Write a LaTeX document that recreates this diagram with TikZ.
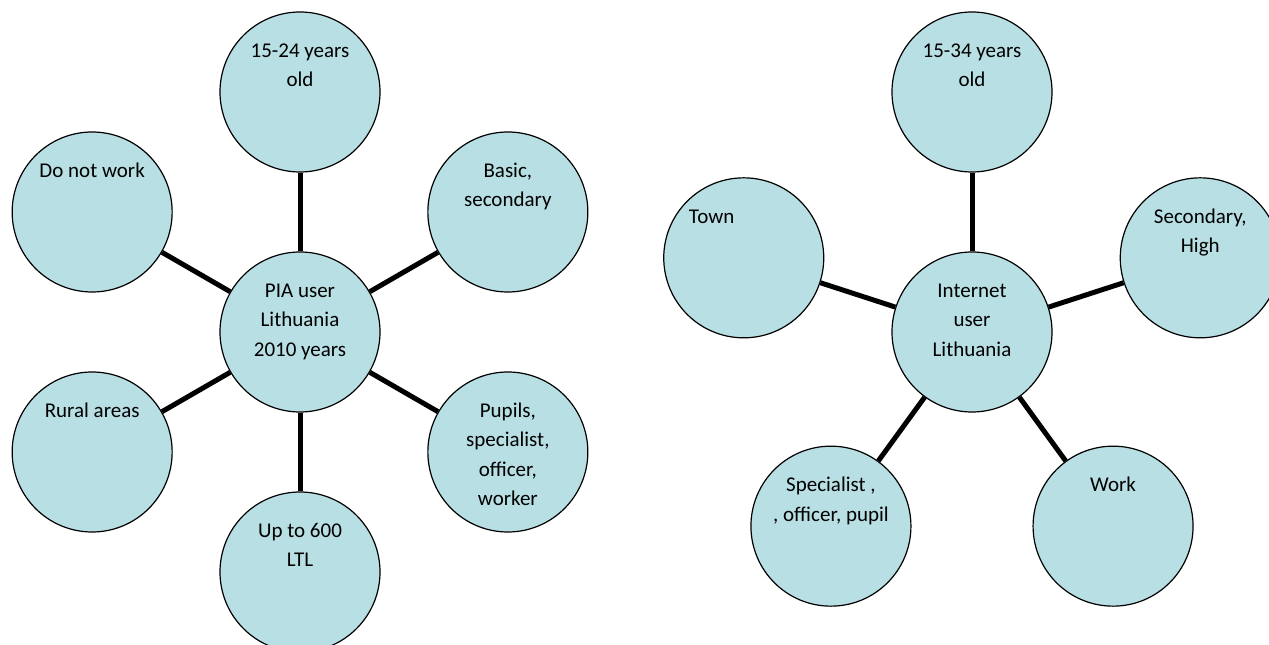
\documentclass[tikz,border=0pt]{standalone}
\usepackage{fontspec}
\setmainfont{Carlito}
\definecolor{bubblefill}{RGB}{184,223,227}
% lines stacked so that the baseline is the first line
\newcommand{\bubbletext}[1]{\begin{tabular}[t]{@{}c@{}}#1\end{tabular}}

\begin{document}
\begin{tikzpicture}[
    x=1pt, y=1pt,
    bubble/.style={draw, circle, line width=1.2pt, fill=bubblefill, minimum size=160pt, inner sep=0pt},
    txt/.style={anchor=base, inner sep=0pt, font=\fontsize{21}{29.5}\selectfont},
    link/.style={line width=5pt}
]
\clip (0,0) rectangle (1269,645);

% PIA users: hub with six groups
\begin{scope}[shift={(300,313)}]
\node[bubble] (pia) at (0,0) {};
\node[bubble] (age) at (90:240) {};
\node[bubble] (edu) at (30:240) {};
\node[bubble] (occup) at (-30:240) {};
\node[bubble] (income) at (-90:240) {};
\node[bubble] (rural) at (-150:240) {};
\node[bubble] (nowork) at (150:240) {};
\end{scope}
\foreach \n in {age,edu,occup,income,rural,nowork}
    \draw[link] (pia) -- (\n);

\node[txt] (pia-t) at ([yshift=-46pt]pia.north) {\bubbletext{PIA user\\Lithuania\\2010 years}};
\node[txt] (age-t) at ([yshift=-46pt]age.north) {\bubbletext{15-24 years\\old}};
\node[txt] (edu-t) at ([yshift=-46pt]edu.north) {\bubbletext{Basic,\\secondary}};
\node[txt] (occup-t) at ([yshift=-46pt]occup.north) {\bubbletext{Pupils,\\specialist,\\officer,\\worker}};
\node[txt] (income-t) at ([yshift=-46pt]income.north) {\bubbletext{Up to 600\\LTL}};
\node[txt] (rural-t) at ([yshift=-46pt]rural.north) {Rural areas};
\node[txt] (nowork-t) at ([yshift=-46pt]nowork.north) {Do not work};

% Internet users: hub with five groups
\begin{scope}[shift={(972,313)}]
\node[bubble] (net) at (0,0) {};
\node[bubble] (netage) at (90:240) {};
\node[bubble] (netedu) at (18:240) {};
\node[bubble] (network) at (-54:240) {};
\node[bubble] (netjob) at (-126:240) {};
\node[bubble] (town) at (162:240) {};
\end{scope}
\foreach \n in {netage,netedu,network,netjob,town}
    \draw[link] (net) -- (\n);

\node[txt] (net-t) at ([yshift=-46pt]net.north) {\bubbletext{Internet\\user\\Lithuania}};
\node[txt] (netage-t) at ([yshift=-46pt]netage.north) {\bubbletext{15-34 years\\old}};
\node[txt] (netedu-t) at ([yshift=-46pt]netedu.north) {\bubbletext{Secondary,\\High}};
\node[txt] (network-t) at ([yshift=-46pt]network.north) {Work};
\node[txt] (netjob-t) at ([yshift=-46pt]netjob.north) {\bubbletext{Specialist ,\\, officer, pupil}};
\node[txt, anchor=base west] (town-t) at ([xshift=-55pt,yshift=-46pt]town.north) {Town};
\end{tikzpicture}
\end{document}
